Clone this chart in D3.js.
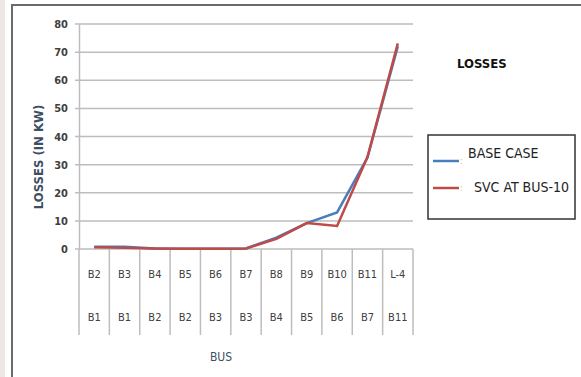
<!DOCTYPE html>
<html>
<head>
<meta charset="utf-8">
<script src="https://cdn.jsdelivr.net/npm/d3@7"></script>
<style>
  body { margin: 0; background: #fff; }
  text { font-family: "Liberation Sans Narrow", "DejaVu Sans Condensed", Arial, sans-serif; }
</style>
</head>
<body>
<script>
// data
var toBus = ['B2', 'B3', 'B4', 'B5', 'B6', 'B7', 'B8', 'B9', 'B10', 'B11', 'L-4'];
var fromBus = ['B1', 'B1', 'B2', 'B2', 'B3', 'B3', 'B4', 'B5', 'B6', 'B7', 'B11'];
var baseCase = [0.8, 0.8, 0.2, 0.1, 0.1, 0.2, 4, 9.2, 13, 32.5, 72];
var svcBus10 = [0.6, 0.4, 0.2, 0.1, 0.1, 0.2, 3.6, 9.2, 8.2, 32.7, 73.1];
var yTicks = [0, 10, 20, 30, 40, 50, 60, 70, 80];

var svg = d3.select('body').append('svg')
    .attr('width', 581)
    .attr('height', 377);

// faint background strip + frame
svg.append('rect')
    .attr('x', 0).attr('y', 0)
    .attr('width', 5).attr('height', 377)
    .attr('fill', '#efe7e4');

svg.append('rect')
    .attr('x', 12).attr('y', 5)
    .attr('width', 600).attr('height', 400)
    .attr('fill', 'none')
    .attr('stroke', '#6b6b6b')
    .attr('stroke-width', 2);

var plotLeft = 79, plotRight = 413, plotTop = 24, plotBottom = 249;

var x = d3.scaleBand()
    .domain(d3.range(toBus.length))
    .range([plotLeft, plotRight]);

var y = d3.scaleLinear()
    .domain([0, 80])
    .range([plotBottom, plotTop]);

// gridlines
svg.append('g')
    .selectAll('line')
    .data(yTicks)
    .enter().append('line')
    .attr('x1', plotLeft - 4)
    .attr('x2', plotRight)
    .attr('y1', function (d) { return y(d); })
    .attr('y2', function (d) { return y(d); })
    .attr('stroke', '#bdbdbd')
    .attr('stroke-width', 1.5);

// y axis
var yAxis = svg.append('g')
    .attr('transform', 'translate(' + plotLeft + ',0)')
    .call(d3.axisLeft(y).tickValues(yTicks).tickSize(0).tickPadding(11));
yAxis.select('.domain').attr('stroke', '#bdbdbd').attr('stroke-width', 1.5);
yAxis.selectAll('text')
    .attr('font-size', 11)
    .attr('font-weight', 'bold')
    .attr('fill', '#404040');

// category grid below the plot
svg.append('g')
    .selectAll('line')
    .data(d3.range(toBus.length + 1))
    .enter().append('line')
    .attr('x1', function (i) { return plotLeft + i * x.bandwidth(); })
    .attr('x2', function (i) { return plotLeft + i * x.bandwidth(); })
    .attr('y1', plotBottom)
    .attr('y2', 335)
    .attr('stroke', '#bdbdbd')
    .attr('stroke-width', 1.5);

svg.append('g')
    .selectAll('text')
    .data(toBus)
    .enter().append('text')
    .attr('x', function (d, i) { return x(i) + x.bandwidth() / 2; })
    .attr('y', 278)
    .attr('text-anchor', 'middle')
    .attr('font-size', 11)
    .attr('fill', '#404040')
    .text(function (d) { return d; });

svg.append('g')
    .selectAll('text')
    .data(fromBus)
    .enter().append('text')
    .attr('x', function (d, i) { return x(i) + x.bandwidth() / 2; })
    .attr('y', 321)
    .attr('text-anchor', 'middle')
    .attr('font-size', 11)
    .attr('fill', '#404040')
    .text(function (d) { return d; });

// lines
var line = d3.line()
    .x(function (d, i) { return x(i) + x.bandwidth() / 2; })
    .y(function (d) { return y(d); });

svg.append('path')
    .datum(baseCase)
    .attr('d', line)
    .attr('fill', 'none')
    .attr('stroke', '#4a7ebb')
    .attr('stroke-width', 2.5);

svg.append('path')
    .datum(svcBus10)
    .attr('d', line)
    .attr('fill', 'none')
    .attr('stroke', '#be4b48')
    .attr('stroke-width', 2.5);

// axis titles
svg.append('text')
    .attr('transform', 'translate(43,157) rotate(-90)')
    .attr('text-anchor', 'middle')
    .attr('font-size', 13)
    .attr('font-weight', 'bold')
    .attr('fill', '#3c4f63')
    .text('LOSSES (IN KW)');

svg.append('text')
    .attr('x', 221)
    .attr('y', 361)
    .attr('text-anchor', 'middle')
    .attr('font-size', 12)
    .attr('fill', '#3c4f63')
    .text('BUS');

// title
svg.append('text')
    .attr('x', 457)
    .attr('y', 68)
    .attr('font-size', 13)
    .attr('font-weight', 'bold')
    .attr('fill', '#111')
    .text('LOSSES');

// legend
svg.append('rect')
    .attr('x', 428).attr('y', 135)
    .attr('width', 147).attr('height', 84)
    .attr('fill', '#fff')
    .attr('stroke', '#333')
    .attr('stroke-width', 1.5);

var legendItems = [
    { name: 'BASE CASE', color: '#4a7ebb', ly: 161, tx: 468, ty: 158 },
    { name: 'SVC AT BUS-10', color: '#be4b48', ly: 188, tx: 474, ty: 192 }
];

legendItems.forEach(function (d) {
    svg.append('line')
        .attr('x1', 433).attr('x2', 459)
        .attr('y1', d.ly).attr('y2', d.ly)
        .attr('stroke', d.color)
        .attr('stroke-width', 2.5);
    svg.append('text')
        .attr('x', 460).attr('y', d.ly + 3)
        .attr('font-size', 9)
        .attr('fill', '#f0b060')
        .text(':');
    svg.append('text')
        .attr('x', d.tx).attr('y', d.ty)
        .attr('font-size', 14)
        .attr('fill', '#222')
        .text(d.name);
});
</script>
</body>
</html>
